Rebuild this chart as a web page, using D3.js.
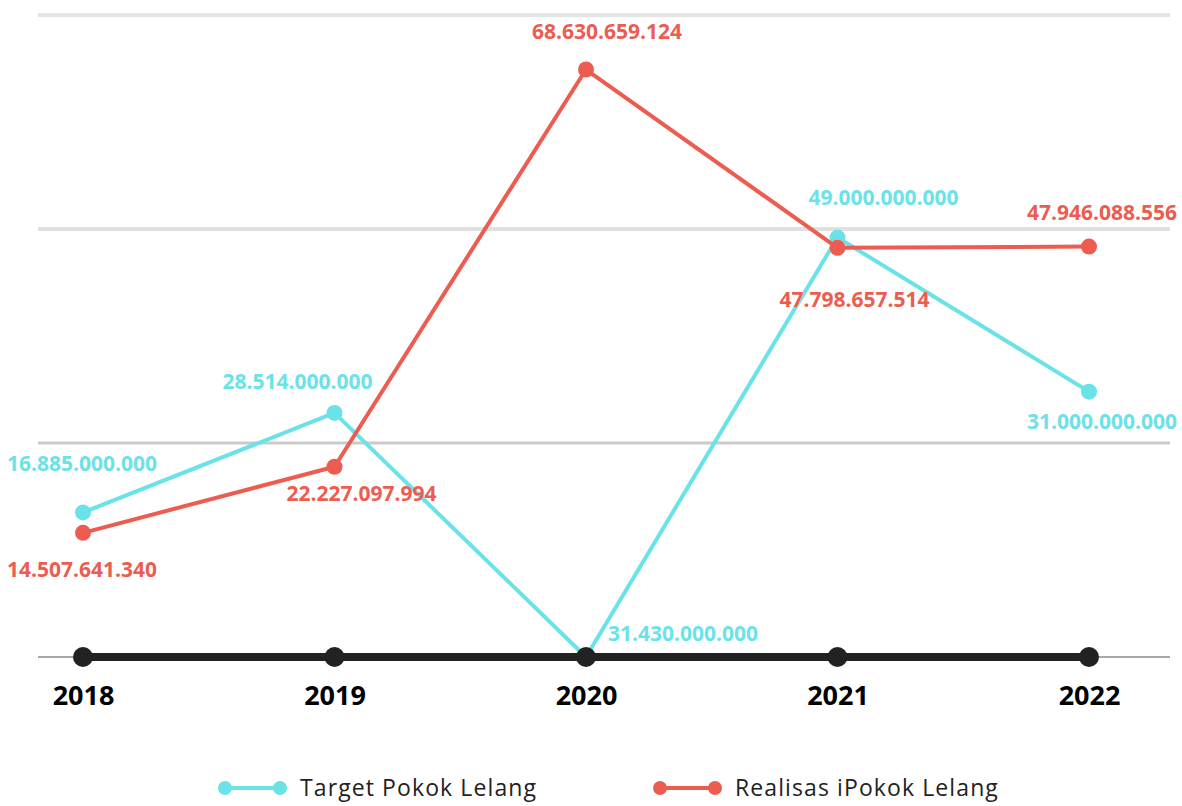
<!DOCTYPE html>
<html>
<head>
<meta charset="utf-8">
<script src="https://cdn.jsdelivr.net/npm/d3@7"></script>
<style>
  html, body { margin: 0; padding: 0; background: #fff; }
  svg { display: block; }
</style>
</head>
<body>
<svg id="chart" width="1182" height="806"></svg>
<script>
// data
const years = ["2018", "2019", "2020", "2021", "2022"];
const targetValues = [16.885e9, 28.514e9, 0, 49e9, 31e9];
const targetLabels = ["16.885.000.000", "28.514.000.000", "31.430.000.000", "49.000.000.000", "31.000.000.000"];
const realValues = [14507641340, 22227097994, 68630659124, 47798657514, 47946088556];
const realLabels = ["14.507.641.340", "22.227.097.994", "68.630.659.124", "47.798.657.514", "47.946.088.556"];
const baseValues = [0, 0, 0, 0, 0];
const gridTicks = [0, 25e9, 50e9, 75e9];
const seriesNames = ["Target Pokok Lelang", "Realisas iPokok Lelang"];

(function () {
    const svg = d3.select("#chart");
    const cyan = "#6ae2e8", red = "#ec5c50", dark = "#222";

    const x = d3.scalePoint().domain(years).range([83, 1089]);
    const y = d3.scaleLinear().domain([0, 75e9]).range([657, 15]);

    // gridlines
    const gridStyle = {0: ["#a8a8a8", 2], 25e9: ["#cacaca", 3], 50e9: ["#e0e0e0", 4], 75e9: ["#e4e4e4", 4]};
    svg.append("g").selectAll("line").data(gridTicks).enter().append("line")
        .attr("x1", 38).attr("x2", 1170)
        .attr("y1", d => y(d)).attr("y2", d => y(d))
        .attr("stroke", d => gridStyle[d][0])
        .attr("stroke-width", d => gridStyle[d][1]);

    const line = d3.line().x((d, i) => x(years[i])).y(d => y(d));

    function drawSeries(values, color, width, r) {
        const g = svg.append("g");
        g.append("path").datum(values)
            .attr("d", line).attr("fill", "none")
            .attr("stroke", color).attr("stroke-width", width)
            .attr("stroke-linejoin", "round");
        g.selectAll("circle").data(values).enter().append("circle")
            .attr("cx", (d, i) => x(years[i])).attr("cy", d => y(d))
            .attr("r", r).attr("fill", color);
    }

    drawSeries(targetValues, cyan, 4, 8);
    drawSeries(realValues, red, 4, 8);
    drawSeries(baseValues, dark, 8, 10);

    // value labels, offsets from each point
    const targetOffsets = [[-1, -49], [-37, -31], [97, -23], [46, -40], [13, 30]];
    const realOffsets = [[-1, 37], [27, 27], [21, -38], [17, 52], [13, -34]];

    function drawLabels(values, labels, offsets, color) {
        svg.append("g").selectAll("text").data(values).enter().append("text")
            .attr("x", (d, i) => x(years[i]) + offsets[i][0])
            .attr("y", (d, i) => y(d) + offsets[i][1])
            .attr("dy", "0.35em")
            .attr("text-anchor", "middle")
            .attr("font-family", "'Open Sans', sans-serif")
            .attr("font-weight", 700).attr("font-size", 21)
            .attr("fill", color)
            .text((d, i) => labels[i]);
    }
    drawLabels(targetValues, targetLabels, targetOffsets, cyan);
    drawLabels(realValues, realLabels, realOffsets, red);

    // x axis labels
    const xAxis = d3.axisBottom(x).tickSize(0).tickPadding(0);
    const ax = svg.append("g").attr("transform", "translate(0,686)").call(xAxis);
    ax.select(".domain").remove();
    ax.selectAll("text")
        .attr("dy", "0.71em")
        .attr("font-family", "'Open Sans', sans-serif")
        .attr("font-weight", 700).attr("font-size", 27)
        .attr("fill", "#000");

    // legend
    const legendX = [225, 660];
    const legendColors = [cyan, red];
    const leg = svg.append("g").selectAll("g").data(seriesNames).enter().append("g")
        .attr("transform", (d, i) => `translate(${legendX[i]},788)`);
    leg.append("line").attr("x1", 0).attr("x2", 55)
        .attr("stroke", (d, i) => legendColors[i]).attr("stroke-width", 4);
    leg.append("circle").attr("cx", 0).attr("r", 7).attr("fill", (d, i) => legendColors[i]);
    leg.append("circle").attr("cx", 55).attr("r", 7).attr("fill", (d, i) => legendColors[i]);
    leg.append("text").attr("x", 75).attr("dy", "0.35em")
        .attr("font-family", "'Open Sans', sans-serif")
        .attr("font-size", 23).attr("letter-spacing", 1.1).attr("fill", "#222")
        .text(d => d);
})();
</script>
</body>
</html>
